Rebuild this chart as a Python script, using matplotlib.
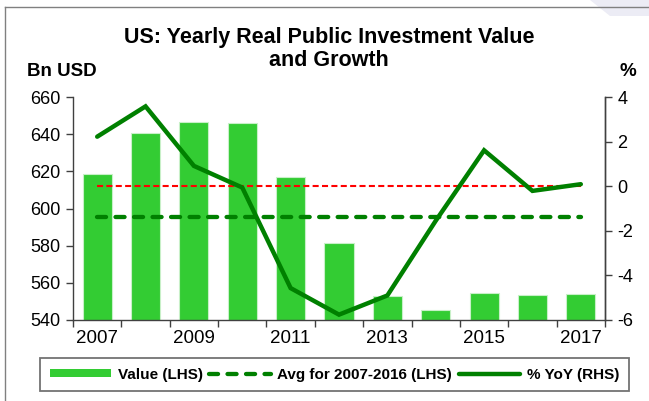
import numpy as np
import matplotlib
matplotlib.use("Agg")
import matplotlib.pyplot as plt
from matplotlib.patches import Patch, Polygon
from matplotlib.lines import Line2D

plt.rcParams['font.family'] = ['Liberation Sans', 'DejaVu Sans']
plt.rcParams['axes.unicode_minus'] = False

# data
years = [2007, 2008, 2009, 2010, 2011, 2012, 2013, 2014, 2015, 2016, 2017]
value_bn = [618.4, 640.5, 646.6, 646.0, 616.8, 581.4, 553.1, 545.4, 554.3, 553.2, 553.8]
yoy_pct = [2.22, 3.58, 0.91, -0.06, -4.57, -5.76, -4.90, -1.55, 1.61, -0.21, 0.09]
year_labels = ['2007', '', '2009', '', '2011', '', '2013', '', '2015', '', '2017']

BAR_GREEN = '#33CC33'
LINE_GREEN = '#008000'
AVG_DASH = (2.1, 2.2)

W, H = 649, 401
fig = plt.figure(figsize=(W / 100, H / 100), dpi=100)

def fx(px):
    return px / W

def fy(py):
    return 1 - py / H

# page frame (grey border top / left) and the little corner shading
fig.add_artist(Line2D([fx(5), 1.0], [fy(7), fy(7)], color='#808080', lw=1.0))
fig.add_artist(Line2D([fx(5), fx(5)], [fy(7), 0.0], color='#808080', lw=1.0))
fig.add_artist(Polygon([[fx(590), 1.0], [1.0, 1.0], [1.0, fy(16)], [fx(610), fy(16)]],
                       closed=True, facecolor='#ECECF5', edgecolor='none'))

left, right, top, bottom = 73, 605, 97, 320
ax = fig.add_axes([fx(left), fy(bottom), fx(right - left), (bottom - top) / H])
ax2 = ax.twinx()

x = np.arange(len(years))
avg = np.mean(value_bn[:10])

ax.bar(x, value_bn, width=0.6, color=BAR_GREEN, edgecolor='#C8F0C8', linewidth=0.8, zorder=2)
ax.plot(x, [avg] * len(x), color=LINE_GREEN, lw=3.1, dashes=AVG_DASH,
        dash_capstyle='round', zorder=3)

ax2.plot(x, [0] * len(x), color='#FF0000', lw=1.5, dashes=(2.9, 1.6), zorder=2)
ax2.plot(x, yoy_pct, color=LINE_GREEN, lw=3.2, solid_capstyle='round',
         solid_joinstyle='miter', zorder=3)

ax.set_xlim(-0.5, len(years) - 0.5)
ax.set_ylim(540, 660)
ax.set_yticks(np.arange(540, 661, 20))
ax2.set_ylim(-6, 4)
ax2.set_yticks(np.arange(-6, 5, 2))

ax.set_xticks(x)
ax.set_xticklabels(year_labels, fontsize=13.5)
ax.set_xticks(np.arange(-0.5, len(years), 1), minor=True)
ax.tick_params(axis='x', which='major', length=0, pad=7)
ax.tick_params(axis='x', which='minor', length=5, width=1, color='#404040', direction='out')
ax.tick_params(axis='y', length=5, width=1, color='#404040', labelsize=13, pad=4)
ax2.tick_params(axis='y', length=5, width=1, color='#404040', labelsize=13, pad=4)

for a in (ax, ax2):
    a.spines['top'].set_visible(False)
    for s in ('left', 'right', 'bottom'):
        a.spines[s].set_color('#404040')
        a.spines[s].set_linewidth(1.0)
ax2.spines['left'].set_visible(False)
ax2.spines['bottom'].set_visible(False)
ax.set_facecolor('none')

fig.text(fx(329), fy(37), 'US: Yearly Real Public Investment Value', ha='center', va='center',
         fontsize=15.5, fontweight='bold')
fig.text(fx(329), fy(60), 'and Growth', ha='center', va='center',
         fontsize=15.5, fontweight='bold')
fig.text(fx(27), fy(72), 'Bn USD', ha='left', va='center', fontsize=13.5, fontweight='bold')
fig.text(fx(628), fy(72), '%', ha='center', va='center', fontsize=13.5, fontweight='bold')

handles = [
    Patch(facecolor=BAR_GREEN, edgecolor='none'),
    Line2D([], [], color=LINE_GREEN, lw=3.1, dashes=AVG_DASH, dash_capstyle='round'),
    Line2D([], [], color=LINE_GREEN, lw=3.2, solid_capstyle='round'),
]
labels = ['Value (LHS)', 'Avg for 2007-2016 (LHS)', '% YoY (RHS)']
leg = fig.legend(handles, labels, loc='center',
                 bbox_to_anchor=(fx((38 + 631) / 2), fy(374.5)),
                 ncol=3, prop={'weight': 'bold', 'size': 11},
                 frameon=True, fancybox=False, edgecolor='#505050',
                 handlelength=4.0, handleheight=0.45, handletextpad=0.45,
                 columnspacing=0.45, borderpad=0.62, borderaxespad=0)
leg.get_frame().set_linewidth(1.3)

fig.savefig('out.png', dpi=100)
